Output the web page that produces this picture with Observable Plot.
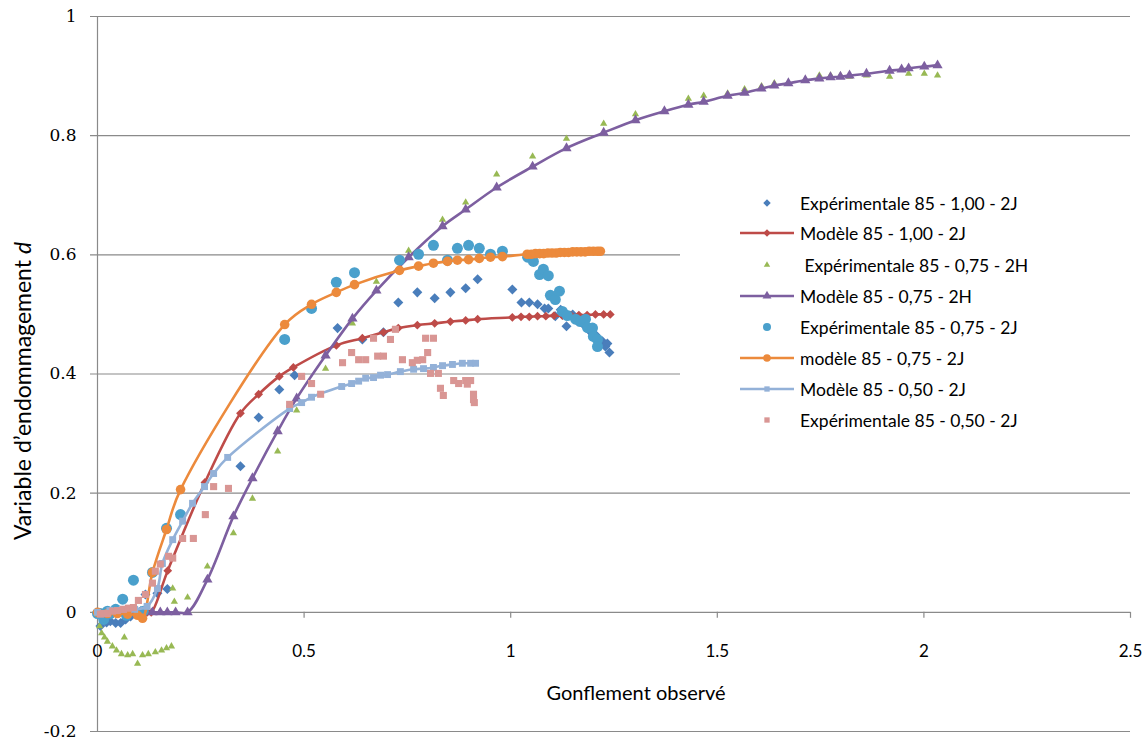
<!DOCTYPE html>
<html><head><meta charset="utf-8">
<script src="https://cdn.jsdelivr.net/npm/d3@7"></script>
<script src="https://cdn.jsdelivr.net/npm/@observablehq/plot@0.6"></script>
<style>
body{margin:0;background:#fff;}
#wrap{position:relative;width:1144px;height:740px;overflow:hidden;}
#legend{position:absolute;left:680px;top:185px;width:462px;height:255px;background:#fff;font-family:Lato,sans-serif;font-size:17.5px;color:#000;}
.row{position:absolute;left:0;height:30px;display:flex;align-items:center;white-space:pre;}
.row svg{margin-left:60px;margin-right:6px;}
#ylab{position:absolute;left:22px;top:391px;transform:translate(-50%,-50%) rotate(-90deg);font-family:Lato,sans-serif;font-size:23px;white-space:nowrap;}
#xlab{position:absolute;left:636px;top:692px;transform:translate(-50%,-50%);font-family:Lato,sans-serif;font-size:20px;white-space:nowrap;}
</style>
</head><body>
<div id="wrap"><div id="chart"></div><div id="legend"></div>
<div id="ylab">Variable d’endommagement <i>d</i></div>
<div id="xlab">Gonflement observé</div></div>
<script>
const seriesNames = ["Expérimentale 85 - 1,00 - 2J","Modèle 85 - 1,00 - 2J"," Expérimentale 85 - 0,75 - 2H","Modèle 85 - 0,75 - 2H","Expérimentale 85 - 0,75 - 2J","modèle 85 - 0,75 - 2J","Modèle 85 - 0,50 - 2J","Expérimentale 85 - 0,50 - 2J"];
const xTicks = [0,0.5,1,1.5,2,2.5];
const xTickLabels = ["0","0.5","1","1.5","2","2.5"];
const yTicks = [-0.2,0,0.2,0.4,0.6,0.8,1];
const yTickLabels = ["-0.2","0","0.2","0.4","0.6","0.8","1"];

const exp100_2J = [[0,0],[0.007,-0.023],[0.015,-0.010],[0.022,-0.017],[0.031,-0.015],[0.044,-0.018],[0.056,-0.018],[0.068,-0.012],[0.080,-0.007],[0.092,-0.002],[0.104,0.002],[0.116,0.030],[0.145,0.032],[0.169,0.039],[0.346,0.245],[0.390,0.327],[0.440,0.374],[0.477,0.398],[0.581,0.477],[0.641,0.458],[0.692,0.470],[0.728,0.520],[0.774,0.537],[0.816,0.527],[0.854,0.537],[0.891,0.544],[0.920,0.559],[1.004,0.542],[1.026,0.520],[1.045,0.520],[1.065,0.517],[1.082,0.510],[1.091,0.510],[1.108,0.497],[1.121,0.508],[1.125,0.500],[1.135,0.480],[1.150,0.500],[1.162,0.488],[1.176,0.483],[1.193,0.471],[1.205,0.466],[1.222,0.455],[1.229,0.446],[1.234,0.451],[1.239,0.436]];
const mod100_2J = [[0,0],[0.03,0],[0.06,0],[0.09,0],[0.12,0],[0.13,0],[0.17,0.07],[0.26,0.218],[0.346,0.334],[0.390,0.366],[0.440,0.396],[0.474,0.411],[0.578,0.448],[0.641,0.460],[0.692,0.470],[0.728,0.477],[0.774,0.482],[0.816,0.485],[0.854,0.488],[0.891,0.490],[0.920,0.492],[1.004,0.495],[1.025,0.496],[1.045,0.496],[1.065,0.497],[1.085,0.497],[1.105,0.498],[1.125,0.498],[1.145,0.499],[1.165,0.499],[1.185,0.499],[1.205,0.500],[1.225,0.500],[1.241,0.500]];
const exp075_2H = [[0.005,-0.023],[0.010,-0.035],[0.017,-0.042],[0.024,-0.049],[0.036,-0.057],[0.046,-0.064],[0.058,-0.070],[0.065,-0.042],[0.073,-0.072],[0.085,-0.070],[0.097,-0.086],[0.109,-0.072],[0.123,-0.070],[0.140,-0.067],[0.155,-0.064],[0.167,-0.060],[0.179,-0.057],[0.182,0.040],[0.186,0.018],[0.218,0.025],[0.266,0.077],[0.329,0.133],[0.375,0.191],[0.436,0.270],[0.482,0.339],[0.552,0.409],[0.617,0.485],[0.675,0.555],[0.753,0.607],[0.835,0.659],[0.891,0.688],[0.966,0.735],[1.053,0.765],[1.135,0.795],[1.225,0.820],[1.302,0.836],[1.372,0.841],[1.430,0.862],[1.467,0.867],[1.525,0.871],[1.566,0.878],[1.607,0.883],[1.638,0.888],[1.672,0.888],[1.713,0.894],[1.747,0.901],[1.774,0.901],[1.798,0.901],[1.820,0.899],[1.861,0.901],[1.917,0.899],[1.946,0.911],[1.963,0.904],[2.001,0.904],[2.033,0.901]];
const mod075_2H = [[0.133,0],[0.152,0],[0.169,0],[0.189,0],[0.218,0],[0.266,0.055],[0.329,0.161],[0.375,0.225],[0.436,0.304],[0.482,0.359],[0.552,0.431],[0.617,0.493],[0.675,0.540],[0.753,0.596],[0.835,0.648],[0.891,0.676],[0.966,0.713],[1.053,0.748],[1.135,0.779],[1.225,0.805],[1.302,0.826],[1.372,0.841],[1.430,0.852],[1.467,0.857],[1.525,0.867],[1.566,0.872],[1.607,0.879],[1.638,0.884],[1.672,0.888],[1.713,0.893],[1.747,0.896],[1.774,0.898],[1.798,0.899],[1.820,0.901],[1.861,0.904],[1.917,0.909],[1.946,0.911],[1.963,0.913],[2.001,0.916],[2.033,0.918]];
const exp075_2J = [[0,-0.002],[0.007,-0.002],[0.015,-0.012],[0.024,0.002],[0.031,-0.002],[0.044,0.005],[0.061,0.022],[0.070,-0.005],[0.087,0.054],[0.111,0.002],[0.133,0.067],[0.167,0.141],[0.201,0.164],[0.453,0.458],[0.518,0.510],[0.578,0.554],[0.622,0.570],[0.731,0.591],[0.777,0.601],[0.813,0.616],[0.847,0.591],[0.871,0.611],[0.898,0.616],[0.924,0.611],[0.951,0.601],[0.980,0.606],[1.041,0.596],[1.055,0.589],[1.070,0.567],[1.079,0.576],[1.091,0.565],[1.096,0.532],[1.108,0.525],[1.118,0.539],[1.125,0.505],[1.137,0.498],[1.157,0.492],[1.169,0.488],[1.181,0.492],[1.186,0.478],[1.198,0.477],[1.200,0.463],[1.210,0.458],[1.210,0.446]];
const mod075_2J = [[0,0],[0.024,-0.002],[0.048,-0.002],[0.073,-0.003],[0.097,-0.005],[0.109,-0.010],[0.133,0.067],[0.167,0.139],[0.201,0.206],[0.453,0.483],[0.518,0.517],[0.578,0.537],[0.622,0.550],[0.731,0.574],[0.777,0.581],[0.813,0.586],[0.847,0.589],[0.871,0.591],[0.898,0.592],[0.924,0.594],[0.951,0.596],[0.980,0.597],[1.040,0.601],[1.050,0.601],[1.060,0.602],[1.070,0.602],[1.080,0.602],[1.090,0.603],[1.100,0.603],[1.110,0.603],[1.120,0.604],[1.130,0.604],[1.140,0.604],[1.150,0.605],[1.160,0.605],[1.170,0.605],[1.180,0.605],[1.190,0.606],[1.200,0.606],[1.210,0.606],[1.217,0.606]];
const mod050_2J = [[0,0],[0.03,0.003],[0.06,0.005],[0.09,0.005],[0.12,0.010],[0.145,0.040],[0.157,0.082],[0.182,0.122],[0.206,0.153],[0.230,0.183],[0.259,0.211],[0.281,0.233],[0.315,0.260],[0.465,0.342],[0.494,0.352],[0.518,0.361],[0.591,0.379],[0.615,0.384],[0.632,0.388],[0.649,0.393],[0.668,0.394],[0.685,0.398],[0.702,0.399],[0.733,0.404],[0.765,0.408],[0.789,0.409],[0.813,0.411],[0.835,0.414],[0.859,0.416],[0.883,0.418],[0.903,0.418],[0.915,0.418]];
const exp050_2J = [[0.007,-0.003],[0.015,-0.002],[0.024,-0.002],[0.036,0.002],[0.048,0.003],[0.063,0.005],[0.075,0.007],[0.087,0.008],[0.099,0.020],[0.116,0.030],[0.133,0.049],[0.140,0.069],[0.152,0.081],[0.172,0.094],[0.182,0.091],[0.206,0.124],[0.232,0.124],[0.261,0.164],[0.281,0.211],[0.317,0.208],[0.465,0.349],[0.494,0.396],[0.518,0.384],[0.540,0.366],[0.593,0.419],[0.615,0.436],[0.632,0.424],[0.649,0.424],[0.668,0.460],[0.678,0.430],[0.692,0.430],[0.709,0.458],[0.721,0.475],[0.738,0.424],[0.762,0.419],[0.774,0.423],[0.787,0.424],[0.799,0.436],[0.794,0.460],[0.813,0.460],[0.806,0.401],[0.825,0.401],[0.830,0.376],[0.837,0.364],[0.862,0.389],[0.874,0.384],[0.891,0.389],[0.895,0.383],[0.903,0.389],[0.910,0.366],[0.910,0.357],[0.912,0.352]];

const seriesData = [exp100_2J, mod100_2J, exp075_2H, mod075_2H, exp075_2J, mod075_2J, mod050_2J, exp050_2J];

const diamond = {draw(ctx, size){const h=Math.sqrt(size/2);ctx.moveTo(0,-h);ctx.lineTo(h,0);ctx.lineTo(0,h);ctx.lineTo(-h,0);ctx.closePath();}};
const styles = [
  {color:"#4a7ebb", symbol:diamond, r:4.0, line:false, lr:3.0},
  {color:"#be4b48", symbol:diamond, r:3.5, line:true, lr:3.0},
  {color:"#98b954", symbol:"triangle", r:2.7, line:false, lr:2.4},
  {color:"#7d5fa0", symbol:"triangle", r:3.8, line:true, lr:3.3},
  {color:"#4aa0cc", symbol:"circle", r:5.5, line:false, lr:4.0},
  {color:"#ec8a3c", symbol:"circle", r:4.8, line:true, lr:3.8},
  {color:"#93b1d8", symbol:"square", r:3.9, line:true, lr:3.0},
  {color:"#d99694", symbol:"square", r:4.0, line:false, lr:3.0}
];

const marks = [
  Plot.ruleY(yTicks, {y: d => d, stroke: "#8a8a8a", strokeWidth: 1.2, insetLeft: -7}),
  Plot.ruleX([0], {stroke: "#8a8a8a", strokeWidth: 1.2}),
  Plot.ruleX(xTicks, {x: d => d, y1: () => 0, y2: () => 0, insetTop: 6, stroke: "#8a8a8a", strokeWidth: 1.2}),
  Plot.text(xTicks, {x: d => d, y: () => 0, text: (d, i) => xTickLabels[i], dy: 39, fontFamily: "Lato", fontSize: 17, fill: "#000"}),
  Plot.text(yTicks, {y: d => d, text: (d, i) => yTickLabels[i], frameAnchor: "left", dx: -21, textAnchor: "end", fontFamily: "DejaVu Serif", fontSize: 17, fill: "#000"})
];
seriesData.forEach((data, i) => {
  const s = styles[i];
  if (s.line) marks.push(Plot.line(data, {x: d => d[0], y: d => d[1], stroke: s.color, strokeWidth: 2.6, curve: "catmull-rom"}));
  marks.push(Plot.dot(data, {x: d => d[0], y: d => d[1], symbol: s.symbol, r: s.r, fill: s.color, stroke: "none"}));
});

const chart = Plot.plot({
  width: 1144, height: 740,
  marginLeft: 97, marginRight: 14, marginTop: 16, marginBottom: 9,
  x: {domain: [0, 2.5], axis: null},
  y: {domain: [-0.2, 1], axis: null},
  style: {fontFamily: "Lato", fontSize: "15px", color: "#000", background: "#fff", overflow: "visible"},
  marks
});
document.getElementById("chart").appendChild(chart);

// legend
const legend = document.getElementById("legend");
const rowTops = [3, 33, 65, 96, 127, 158, 189, 220];
seriesNames.forEach((name, i) => {
  const s = styles[i];
  const row = document.createElement("div");
  row.className = "row";
  row.style.top = rowTops[i] + "px";
  const sym = typeof s.symbol === "string" ? {circle: d3.symbolCircle, triangle: d3.symbolTriangle, square: d3.symbolSquare}[s.symbol] : s.symbol;
  const p = d3.symbol(sym, s.lr * s.lr * Math.PI)();
  row.innerHTML = `<svg width="54" height="20" viewBox="-27 -10 54 20">${s.line ? `<line x1="-27" x2="27" y1="0" y2="0" stroke="${s.color}" stroke-width="2.6"/>` : ""}<path d="${p}" fill="${s.color}"/></svg><span>${name}</span>`;
  legend.appendChild(row);
});
</script>
</body></html>
